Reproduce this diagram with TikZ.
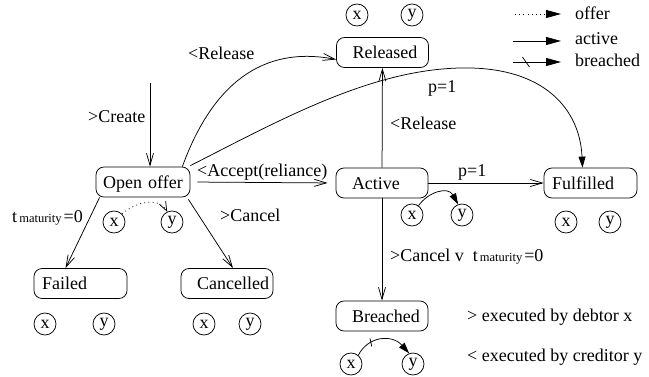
\documentclass[tikz,border=0pt]{standalone}
\usepackage{fontspec}
\setmainfont{Liberation Serif}
\usetikzlibrary{arrows.meta,decorations.markings}
\begin{document}
\begin{tikzpicture}[x=1pt,y=-1pt,
  every node/.style={font=\fontsize{18}{21}\selectfont},
  line/.style={line width=0.75pt},
  open/.style={line, -{Straight Barb[length=12pt,width=7pt]}},
  solid tip/.style={line, -{Triangle[length=11pt,width=7pt]}},
  box/.style={draw, line width=0.75pt, rounded corners=8pt, minimum height=30pt,
    text height=12.5pt, text depth=0pt, inner ysep=0pt},
  circ/.style={draw, line width=0.75pt, circle, minimum size=22pt, inner sep=0pt},
  lbl/.style={anchor=base west, inner sep=0pt},
  dots/.style={dash pattern=on 0.9pt off 3.3pt},
  legtick/.style={postaction={decorate, decoration={markings,
    mark=at position #1 with {\draw[-, line width=0.75pt, solid] (-3.5pt,5pt) -- (3.5pt,-5pt);}}}},
  arctick/.style={postaction={decorate, decoration={markings,
    mark=at position #1 with {\draw[-, line width=0.75pt, solid] (1pt,4pt) -- (-1pt,-4pt);}}}}
]
\useasboundingbox (0,0) rectangle (649,377);
\newcommand{\tsub}{t{\fontsize{12.5}{14}\selectfont\,maturity\,}=0}

% states
\node[box, text width=60pt, align=left, inner xsep=16pt] (rel) at (382.5,52.5) {Released};
\node[box, text width=60pt, align=left, inner xsep=16pt] (act) at (382,183) {Active};
\node[box, text width=77pt, align=left, inner xsep=8pt] (ful) at (590.5,183) {Fulfilled};
\node[box, text width=80pt, align=center, inner xsep=7pt] (oo) at (143,182) {Open offer};
\node[box, text width=77pt, align=left, inner xsep=8pt] (fai) at (80.5,283.5) {Failed};
\node[box, text width=84pt, align=right, inner xsep=4pt] (can) at (227,283.5) {Cancelled};
\node[box, text width=60pt, align=left, inner xsep=16pt] (bre) at (382,316) {Breached};

% agent circles
\node[circ] (relx) at (357,15) {x};
\node[circ] (rely) at (412,15) {y};
\node[circ] (oox) at (114,222) {x};
\node[circ] (ooy) at (172,222) {y};
\node[circ] (actx) at (412,215) {x};
\node[circ] (acty) at (462,215) {y};
\node[circ] (fulx) at (566,222) {x};
\node[circ] (fuly) at (610,222) {y};
\node[circ] (faix) at (45,324) {x};
\node[circ] (faiy) at (104,324) {y};
\node[circ] (canx) at (204,324) {x};
\node[circ] (cany) at (250,324) {y};
\node[circ] (brex) at (351,364) {x};
\node[circ] (brey) at (413,364) {y};

% transitions
\coordinate (cs) at (150,83);
\draw[open] (cs) -- (cs |- oo.north);
\draw[open] ([xshift=-8pt]oo.north east) .. controls (212,85) and (262,45) .. ([yshift=-7pt]rel.west);
\draw[solid tip] ([yshift=1pt]oo.north east) .. controls (280,120) and (370,70) .. (460,68)
  .. controls (545,66) and (580,110) .. ([xshift=-8pt]ful.north);
\draw[open] (act) -- (rel);
\draw[open, shorten <=7pt, shorten >=8pt] (oo.east) -- (act.west);
\draw[open] (act) -- (ful);
\draw[open] ([xshift=4pt]oo.south west) -- ([xshift=-15pt]fai.north);
\draw[open] ([xshift=-2pt,yshift=-2pt]oo.south east) -- ([xshift=6pt]can.north);
\draw[open] (act) -- (bre);

% labels
\node[lbl] (lcreate) at (88,123) {>Create};
\node[lbl] (lrel1) at (188,60) {<Release};
\node[lbl] (lp1) at (428,93) {p=1};
\node[lbl] (lrel2) at (390,130) {<Release};
\node[lbl] (lacc) at (197,177) {<Accept(reliance)};
\node[lbl] (lp2) at (458,177) {p=1};
\node[lbl] (ltm) at (12,223) {\tsub};
\node[lbl] (lcan) at (220,222) {>Cancel};
\node[lbl] (lcanv) at (390,262) {>Cancel v \ \tsub};

% agent arcs
\draw[line, dots, -{Straight Barb[length=9pt,width=7pt]}] (oox.45) .. controls (138,200) and (160,198) .. (ooy.115);
\draw[solid tip] (actx.55) .. controls (428,192) and (448,186) .. (acty.110);
\draw[solid tip, arctick=0.3] (brex.50) .. controls (368,336) and (392,334) .. (brey.110);

% legend
\coordinate (la1) at (515,14);  \coordinate (lb1) at (561,14);
\coordinate (la2) at (513,41);  \coordinate (lb2) at (561,41);
\coordinate (la3) at (513,62);  \coordinate (lb3) at (561,62);
\draw[line, dots, -{Triangle[length=15pt,width=8pt]}] (la1) -- (lb1);
\draw[line, -{Triangle[length=15pt,width=8pt]}] (la2) -- (lb2);
\draw[line, -{Triangle[length=15pt,width=8pt]}, legtick=0.27] (la3) -- (lb3);
\node[lbl] (loffer) at (575,20) {offer};
\node[lbl] (lactive) at (575,45) {active};
\node[lbl] (lbreach) at (575,67) {breached};
\node[lbl] (ldebt) at (467,322) {> executed by debtor x};
\node[lbl] (lcred) at (467,362) {< executed by creditor y};
\end{tikzpicture}
\end{document}
